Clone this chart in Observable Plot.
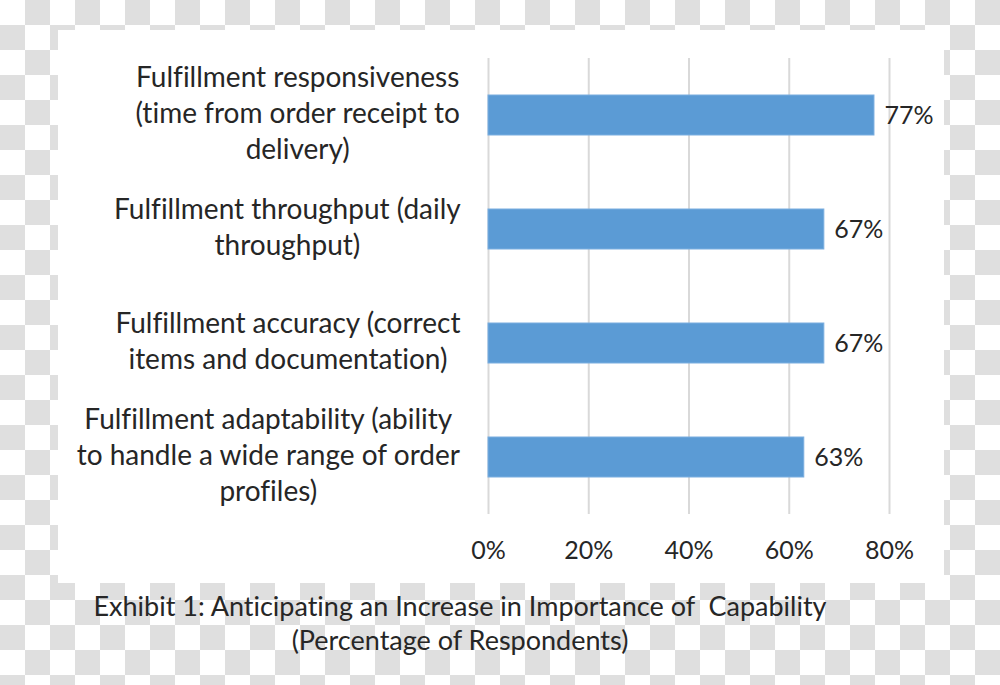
<!DOCTYPE html>
<html>
<head>
<meta charset="utf-8">
<script src="https://cdn.jsdelivr.net/npm/d3@7"></script>
<script src="https://cdn.jsdelivr.net/npm/@observablehq/plot@0.6"></script>
<style>
  html, body { margin: 0; padding: 0; }
  body {
    width: 1000px; height: 685px; position: relative; overflow: hidden;
    background-color: #ffffff;
    background-image: conic-gradient(#dfdfdf 25%, transparent 0 50%, #dfdfdf 0 75%, transparent 0);
    background-size: 50px 50px;
    font-family: Lato, "Open Sans", sans-serif;
    font-variant-ligatures: none;
  }
  #panel { position: absolute; left: 58px; top: 30px; width: 886px; height: 553px; background: #ffffff; }
  #chart { position: absolute; left: 0; top: 0; }
  #caption { position: absolute; left: 0; top: 589px; width: 920px; text-align: center;
    font-size: 27px; line-height: 34px; color: #262626; }
</style>
</head>
<body>
<div id="panel"></div>
<div id="chart"></div>
<div id="caption"><div>Exhibit 1: Anticipating an Increase in Importance of&nbsp; Capability</div><div>(Percentage of Respondents)</div></div>
<script>
const categories = [
  "Fulfillment responsiveness\n(time from order receipt to\ndelivery)",
  "Fulfillment throughput (daily\nthroughput)",
  "Fulfillment accuracy (correct\nitems and documentation)",
  "Fulfillment adaptability (ability\nto handle a wide range of order\nprofiles)"
];
const values = [0.77, 0.67, 0.67, 0.63];
const xTicks = [0, 0.2, 0.4, 0.6, 0.8];

const data = categories.map((c, i) => ({cat: c, value: values[i]}));
const fmt = d3.format(".0%");
const FONT = "Lato, 'Open Sans', sans-serif";
const CAT_FS = 28;
const NUM_FS = 25;

const ctx = document.createElement("canvas").getContext("2d");
ctx.font = `${CAT_FS}px Lato`;
const blockWidth = c => d3.max(c.split("\n"), l => ctx.measureText(l).width);

const labelMarks = data.map(d => Plot.text([d], {
  x: () => 0, y: "cat", text: "cat",
  textAnchor: "middle", lineAnchor: "middle", lineHeight: 36 / CAT_FS,
  dx: -(28 + blockWidth(d.cat) / 2), dy: -4, fill: "#262626", fontSize: CAT_FS
}));

const chart = Plot.plot({
  width: 1000, height: 585,
  marginLeft: 488, marginRight: 111, marginTop: 58, marginBottom: 71,
  style: {background: "transparent", fontFamily: FONT, fontSize: NUM_FS + "px", color: "#262626", fontVariantLigatures: "none"},
  x: {domain: [0, 0.8], axis: null},
  y: {domain: categories, paddingInner: 0.65, paddingOuter: 0.325, axis: null},
  marks: [
    Plot.gridX(xTicks, {stroke: "#d9d9d9", strokeOpacity: 1, strokeWidth: 2}),
    Plot.barX(data, {x: "value", y: "cat", fill: "#5b9bd5", stroke: "#7aaee0", strokeWidth: 1}),
    Plot.text(data, {x: "value", y: "cat", text: d => fmt(d.value), dx: 10, textAnchor: "start", fill: "#262626", fontSize: NUM_FS}),
    Plot.axisX(xTicks, {tickFormat: fmt, tickSize: 0, tickPadding: 27, fill: "#262626", fontSize: NUM_FS, label: null}),
    ...labelMarks
  ]
});
document.getElementById("chart").appendChild(chart);
</script>
</body>
</html>
